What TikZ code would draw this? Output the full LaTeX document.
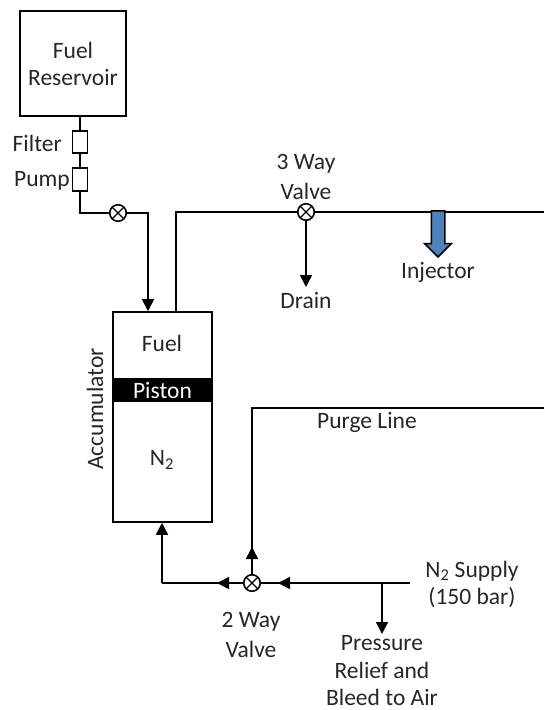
\documentclass[tikz,border=0pt]{standalone}
\usepackage{fontspec}
\setmainfont{Carlito}
\usetikzlibrary{positioning,calc,arrows.meta,shapes.arrows}
\definecolor{injblue}{HTML}{4F81BD}
\definecolor{txt}{HTML}{262626}

\begin{document}
\begin{tikzpicture}[x=1pt,y=-1pt,font=\fontsize{23.5}{27}\selectfont,text=txt,
 box/.style={draw=black,line width=1.6pt,inner sep=0pt,align=center,text=txt},
 part/.style={draw=black,line width=1.5pt,inner sep=0pt,minimum width=15pt},
 pipe/.style={draw=black,line width=1.6pt},
 flow/.style={pipe,-{Triangle[length=12pt,width=12pt]}},
 lb/.style={align=center,inner sep=0pt},
 wide/.style={lb,font=\fontsize{23.5}{29.5}\selectfont},
 valve/.style={draw=black,fill=white,circle,line width=1.6pt,minimum size=16.5pt,inner sep=0pt,
  path picture={\draw[line width=1.3pt] (path picture bounding box.north west) -- (path picture bounding box.south east)
   (path picture bounding box.north east) -- (path picture bounding box.south west);}}]
\useasboundingbox (0,0) rectangle (544,710);
% reservoir side
\node[box,minimum width=106pt,minimum height=105pt] (res) at (73,63.5) {Fuel\\Reservoir};
\node[part,minimum height=22pt] (filt) at (80,142) {};
\node[part,minimum height=23pt] (pump) at (80,179.5) {};
\node[lb,anchor=east] (lfilt) at (62,143) {Filter};
\node[lb,anchor=east] (lpump) at (70,181) {Pump};
\node[valve] (v1) at (118,213) {};
\coordinate (c1) at (80,213);
\coordinate (c2) at (148,213);
% accumulator
\node[box,minimum width=99pt,minimum height=210pt] (acc) at (162.5,417) {};
\node[fill=black,text=white,minimum width=99pt,minimum height=24pt,inner sep=0pt] (pist) at (162.5,390) {Piston};
\node[lb] (lfuel) at (162,343) {Fuel};
\node[lb] (ln2) at (162,460) {N\textsubscript{2}};
\node[lb,rotate=90] (lacc) at (95,409) {Accumulator};
\draw[pipe] (res.south -| filt) -- (filt);
\draw[pipe] (filt) -- (pump);
\draw[pipe] (pump) -- (c1) -- (v1);
\draw[flow] (v1) -- (c2) -- (c2 |- acc.north);
% fuel line
\node[valve] (v3) at (306,212) {};
\coordinate (c3) at (176,212);
\coordinate (c4) at (544,212);
\coordinate (c5) at (306,287);
\draw[pipe] (c3 |- acc.north) -- (c3) -- (v3);
\draw[pipe] (v3) -- (c4);
\draw[flow] (v3) -- (c5);
\node[wide] (l3w) at (306,177) {3 Way\\Valve};
\node[lb] (ldrain) at (306,300) {Drain};
\node[draw=black,fill=injblue,line width=1.5pt,single arrow,shape border rotate=270,single arrow head extend=6.5pt,single arrow head indent=0pt,inner sep=6pt,minimum width=26pt,minimum height=46pt,anchor=tip] (inj) at (438,258) {};
\node[lb] (linj) at (438,272) {Injector};
% nitrogen side
\node[valve] (v2) at (252,583) {};
\coordinate (c6) at (544,408);
\coordinate (c7) at (252,408);
\coordinate (c8) at (252,547);
\coordinate (c9) at (410,583);
\coordinate (c10) at (278,583);
\coordinate (c11) at (217,583);
\coordinate (c12) at (162,583);
\coordinate (c13) at (382,583);
\coordinate (c14) at (382,634);
\draw[pipe] (c6) -- (c7) -- (v2.north);
\draw[flow] (v2) -- (c8);
\draw[pipe] (c9) -- (v2);
\draw[flow] (c9) -- (c10);
\draw[flow] (v2) -- (c11);
\draw[pipe] (v2) -- (c12);
\draw[flow] (c12) -- (c12 |- acc.south);
\draw[flow] (c13) -- (c14);
\node[lb] (lpurge) at (367,422) {Purge Line};
\node[lb] (lsup) at (472,584) {N\textsubscript{2} Supply\\(150 bar)};
\node[wide] (l2w) at (251,635) {2 Way\\Valve};
\node[lb,font=\fontsize{23.5}{27.5}\selectfont] (lrel) at (382,671) {Pressure\\Relief and\\Bleed to Air};
\end{tikzpicture}
\end{document}
